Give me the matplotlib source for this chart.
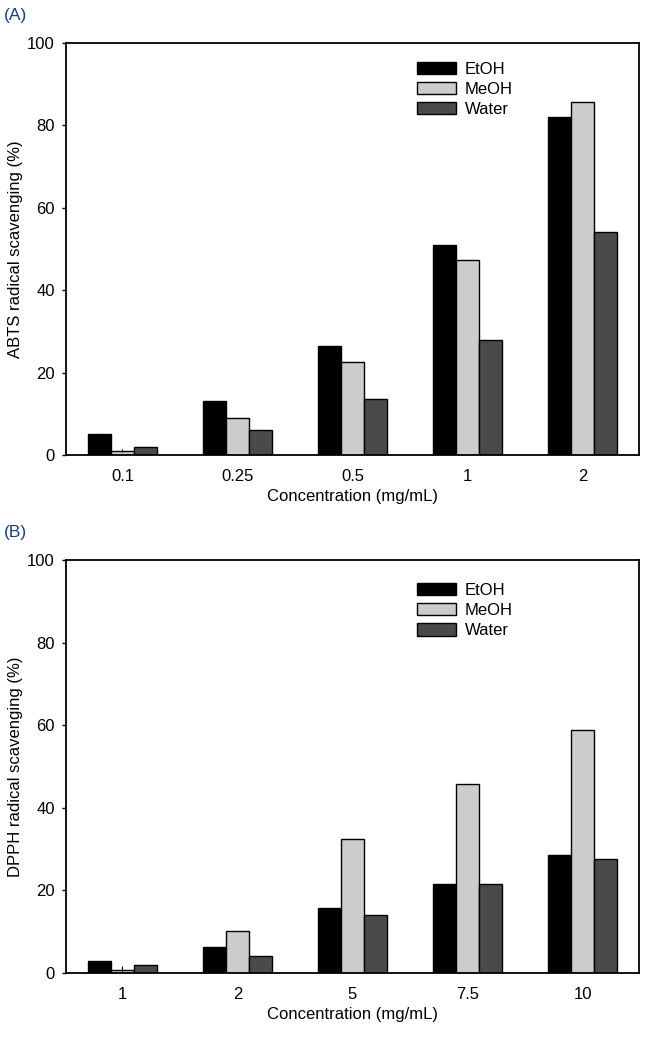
import matplotlib
matplotlib.use("Agg")
import matplotlib.pyplot as plt
import numpy as np

plt.rcParams['font.family'] = ['Liberation Sans', 'DejaVu Sans']

solvents = ['EtOH', 'MeOH', 'Water']
colors = ['#000000', '#cccccc', '#4a4a4a']

abts_conc = ['0.1', '0.25', '0.5', '1', '2']
abts_etoh = [5.1, 13.2, 26.4, 51.0, 82.0]
abts_meoh = [1.0, 9.0, 22.6, 47.4, 85.7]
abts_water = [2.0, 6.0, 13.6, 28.0, 54.2]
abts_meoh_err = [0.4, 0, 0, 0, 0]

dpph_conc = ['1', '2', '5', '7.5', '10']
dpph_etoh = [3.0, 6.3, 15.8, 21.6, 28.5]
dpph_meoh = [0.8, 10.2, 32.4, 45.8, 58.9]
dpph_water = [2.0, 4.2, 14.0, 21.5, 27.5]
dpph_meoh_err = [0.8, 0, 0, 0, 0]

fig = plt.figure(figsize=(6.49, 10.38), dpi=100)
axA = fig.add_axes([0.1017, 0.5617, 0.8829, 0.3969])
axB = fig.add_axes([0.1017, 0.0626, 0.8829, 0.3979])


def draw_panel(ax, labels, series, meoh_err, ylabel, leg_y):
    x = np.arange(len(labels))
    w = 0.2
    for k, (vals, c, name) in enumerate(zip(series, colors, solvents)):
        err = meoh_err if name == 'MeOH' else None
        ax.bar(x + (k - 1) * w, vals, w, color=c, edgecolor='black',
               linewidth=1.0, label=name, yerr=err,
               error_kw=dict(elinewidth=0.8, capsize=0, ecolor='black'))
    ax.set_xlim(-0.49, 4.49)
    ax.set_ylim(0, 100)
    ax.set_xticks(x)
    ax.set_xticklabels(labels)
    ax.set_yticks(range(0, 101, 20))
    ax.tick_params(axis='x', length=0, labelsize=12, pad=10)
    ax.tick_params(axis='y', direction='out', length=3, width=1.0,
                   labelsize=12, pad=5)
    for s in ax.spines.values():
        s.set_linewidth(1.3)
    ax.set_xlabel('Concentration (mg/mL)', fontsize=12, labelpad=4)
    ax.set_ylabel(ylabel, fontsize=12, labelpad=3)
    ax.legend(loc='upper left', bbox_to_anchor=(0.613, leg_y), frameon=False,
              fontsize=12, handlelength=2.3, handleheight=0.75,
              labelspacing=0.32, handletextpad=0.56, borderpad=0,
              borderaxespad=0)


draw_panel(axA, abts_conc, [abts_etoh, abts_meoh, abts_water], abts_meoh_err,
           'ABTS radical scavenging (%)', 0.955)
draw_panel(axB, dpph_conc, [dpph_etoh, dpph_meoh, dpph_water], dpph_meoh_err,
           'DPPH radical scavenging (%)', 0.945)

fig.text(0.006, 0.992, '(A)', fontsize=12.5, color='#1c3f7a', va='top')
fig.text(0.006, 0.494, '(B)', fontsize=12.5, color='#1c3f7a', va='top')

fig.savefig('out.png', dpi=100)
